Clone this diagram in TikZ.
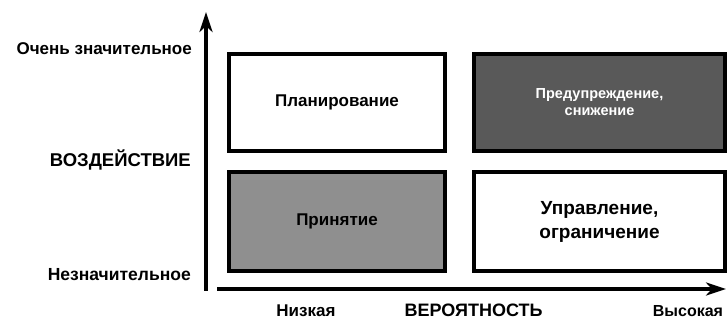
\documentclass[tikz,border=0pt]{standalone}
\usepackage{fontspec}
\setmainfont{Liberation Sans}
\usetikzlibrary{arrows.meta}
\begin{document}
\begin{tikzpicture}[x=1pt,y=-1pt,
  every node/.style={font=\bfseries},
  quad/.style={draw=black,line width=4pt,inner sep=0pt,align=center},
  axis/.style={line width=4.5pt,-{Stealth[length=20pt,width=13pt,inset=6pt]}},
  lbl/.style={anchor=east,inner sep=0pt},
  blbl/.style={anchor=base,inner sep=0pt}
]
\useasboundingbox (0,0) rectangle (728,320);
\fill[white] (0,0) rectangle (728,320);
% boxes
\node[quad,fill=white,minimum width=216pt,minimum height=97pt,font=\bfseries\fontsize{17}{20}\selectfont] (plan) at (337,102.5) {Планирование};
\node[quad,fill=black!65,text=white,minimum width=251pt,minimum height=97pt,font=\bfseries\fontsize{14.5}{17}\selectfont] (prev) at (599.5,102.5) {Предупреждение,\\снижение};
\node[quad,fill=black!44,minimum width=216pt,minimum height=99pt,font=\bfseries\fontsize{17}{20}\selectfont] (acc) at (337,221.5) {Принятие};
\node[quad,fill=white,minimum width=251pt,minimum height=99pt,font=\bfseries\fontsize{19}{24}\selectfont] (ctrl) at (599.5,221.5) {Управление,\\ограничение};
% axes
\coordinate (yb) at (206,291);
\coordinate (yt) at (206,12);
\coordinate (xl) at (217,289);
\coordinate (xr) at (726,289);
\draw[axis] (yb) -- (yt);
\draw[axis] (xl) -- (xr);
% left labels
\node[lbl,font=\bfseries\fontsize{17}{20}\selectfont] (vhigh) at (192,49) {Очень значительное};
\node[lbl,font=\bfseries\fontsize{18.5}{22}\selectfont] (impact) at (191,160) {ВОЗДЕЙСТВИЕ};
\node[lbl,font=\bfseries\fontsize{17.5}{20}\selectfont] (low) at (191,275) {Незначительное};
% bottom labels
\node[blbl,font=\bfseries\fontsize{17}{20}\selectfont] (plow) at (306,316.5) {Низкая};
\node[blbl,font=\bfseries\fontsize{18}{22}\selectfont] (prob) at (473.5,316.5) {ВЕРОЯТНОСТЬ};
\node[blbl,font=\bfseries\fontsize{16}{20}\selectfont] (phigh) at (688,316.5) {Высокая};
\end{tikzpicture}
\end{document}
